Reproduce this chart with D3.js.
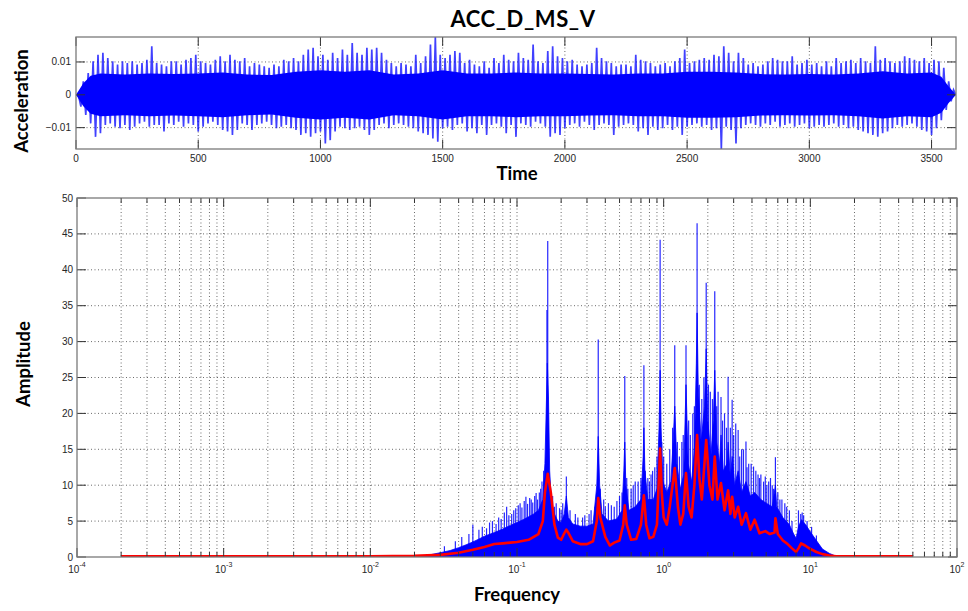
<!DOCTYPE html>
<html>
<head>
<meta charset="utf-8">
<script src="https://cdn.jsdelivr.net/npm/d3@7/dist/d3.min.js"></script>
<style>
  body { margin: 0; background: #fff; }
  .tick-label { font-family: "Liberation Sans", Arial, sans-serif; font-size: 10px; fill: #262626; }
  .axis-title { font-family: Lato, "Open Sans", sans-serif; font-weight: bold; fill: #000; }
</style>
</head>
<body>
<svg width="968" height="611"></svg>
<script>
// ---- time signal: spike envelope read every 20 s (upper and lower peaks)
var sampleStep = 20;
var accHigh = [
  0, 0.0041, 0.0066, 0.0102, 0.0122, 0.0128, 0.0112, 0.0102, 0.0092, 0.0102,
  0.0097, 0.0102, 0.0092, 0.0097, 0.0107, 0.0148, 0.0097, 0.0092, 0.0087, 0.0102,
  0.0102, 0.0092, 0.0107, 0.0112, 0.0122, 0.0102, 0.0097, 0.0092, 0.0107, 0.0117,
  0.0102, 0.0122, 0.0107, 0.0102, 0.0112, 0.0087, 0.0097, 0.0092, 0.0087, 0.0082,
  0.0092, 0.0087, 0.0107, 0.0102, 0.0112, 0.0102, 0.0122, 0.0138, 0.0143, 0.0117,
  0.0122, 0.0107, 0.0128, 0.0112, 0.0138, 0.0122, 0.0158, 0.0128, 0.0122, 0.0143,
  0.0138, 0.0143, 0.0128, 0.0107, 0.0097, 0.0087, 0.0097, 0.0092, 0.0087, 0.0122,
  0.0097, 0.0117, 0.0153, 0.0176, 0.0122, 0.0112, 0.0122, 0.0133, 0.0128, 0.0097,
  0.0107, 0.0092, 0.0087, 0.0102, 0.0082, 0.0112, 0.0097, 0.0122, 0.0107, 0.0102,
  0.0128, 0.0112, 0.0107, 0.0153, 0.0102, 0.0097, 0.0133, 0.0148, 0.0117, 0.0112,
  0.0102, 0.0107, 0.0092, 0.0087, 0.0092, 0.0097, 0.0143, 0.0112, 0.0102, 0.0097,
  0.0087, 0.0092, 0.0092, 0.0087, 0.0122, 0.0107, 0.0102, 0.0097, 0.0087, 0.0092,
  0.0097, 0.0087, 0.0102, 0.0112, 0.0138, 0.0097, 0.0102, 0.0107, 0.0112, 0.0107,
  0.0122, 0.0117, 0.0148, 0.0128, 0.0102, 0.0128, 0.0112, 0.0092, 0.0097, 0.0087,
  0.0092, 0.0102, 0.0112, 0.0107, 0.0102, 0.0102, 0.0117, 0.0092, 0.0097, 0.0107,
  0.0092, 0.0097, 0.0087, 0.0102, 0.0087, 0.0112, 0.0097, 0.0102, 0.0107, 0.0097,
  0.0112, 0.0102, 0.0097, 0.0148, 0.0107, 0.0112, 0.0102, 0.0097, 0.0102, 0.0117,
  0.0112, 0.0107, 0.0102, 0.0112, 0.0097, 0.0107, 0.0102, 0.0082, 0.0041, 0.0015,
  0
];
var accLow = [
  0, -0.0036, -0.0061, -0.0087, -0.0128, -0.0117, -0.0092, -0.0087, -0.0097, -0.0102,
  -0.0092, -0.0107, -0.0097, -0.0087, -0.0082, -0.0097, -0.0092, -0.0092, -0.0112, -0.0087,
  -0.0092, -0.0082, -0.0097, -0.0087, -0.0092, -0.0112, -0.0097, -0.0087, -0.0082, -0.0092,
  -0.0107, -0.0112, -0.0122, -0.0107, -0.0087, -0.0092, -0.0107, -0.0092, -0.0087, -0.0082,
  -0.0092, -0.0102, -0.0097, -0.0092, -0.0102, -0.0107, -0.0122, -0.0117, -0.0128, -0.0117,
  -0.0112, -0.0148, -0.0138, -0.0112, -0.0097, -0.0102, -0.0107, -0.0102, -0.0097, -0.0107,
  -0.0122, -0.0107, -0.0092, -0.0087, -0.0102, -0.0092, -0.0087, -0.0092, -0.0097, -0.0102,
  -0.0112, -0.0117, -0.0122, -0.0133, -0.0143, -0.0102, -0.0097, -0.0107, -0.0092, -0.0087,
  -0.0112, -0.0102, -0.0117, -0.0092, -0.0122, -0.0092, -0.0087, -0.0097, -0.0117, -0.0092,
  -0.0128, -0.0087, -0.0092, -0.0097, -0.0082, -0.0087, -0.0097, -0.0128, -0.0117, -0.0122,
  -0.0102, -0.0092, -0.0087, -0.0097, -0.0082, -0.0092, -0.0107, -0.0092, -0.0087, -0.0092,
  -0.0122, -0.0097, -0.0092, -0.0087, -0.0092, -0.0112, -0.0102, -0.0122, -0.0097, -0.0107,
  -0.0102, -0.0092, -0.0107, -0.0097, -0.0122, -0.0097, -0.0092, -0.0087, -0.0097, -0.0092,
  -0.0107, -0.0102, -0.0165, -0.0097, -0.0107, -0.0148, -0.0102, -0.0092, -0.0087, -0.0092,
  -0.0097, -0.0087, -0.0092, -0.0082, -0.0097, -0.0092, -0.0087, -0.0097, -0.0092, -0.0087,
  -0.0102, -0.0097, -0.0092, -0.0097, -0.0092, -0.0087, -0.0097, -0.0092, -0.0102, -0.0097,
  -0.0107, -0.0112, -0.0117, -0.0122, -0.0128, -0.0117, -0.0112, -0.0102, -0.0092, -0.0097,
  -0.0092, -0.0087, -0.0097, -0.0107, -0.0112, -0.0122, -0.0102, -0.0077, -0.0046, -0.0020,
  0
];
// solid core of the signal (half width), read every 100 s
var coreTime = [0, 30, 60, 100, 200, 300, 400, 500, 600, 700, 800, 900, 1000, 1100, 1200, 1300, 1400, 1500,
  1600, 1700, 1800, 1900, 2000, 2100, 2200, 2300, 2400, 2500, 2600, 2700, 2800, 2900, 3000, 3100, 3200,
  3300, 3400, 3500, 3540, 3570, 3600];
var accCore = [0, 0.0035, 0.0058, 0.0065, 0.0062, 0.0065, 0.0063, 0.0065, 0.0068, 0.0062, 0.0060, 0.0070,
  0.0075, 0.0070, 0.0075, 0.0062, 0.0065, 0.0075, 0.0065, 0.0065, 0.0068, 0.0065, 0.0065, 0.0063, 0.0062,
  0.0065, 0.0065, 0.0070, 0.0070, 0.0068, 0.0063, 0.0062, 0.0063, 0.0062, 0.0065, 0.0072, 0.0065, 0.0068,
  0.0055, 0.0025, 0];
var timeTicks = [0, 500, 1000, 1500, 2000, 2500, 3000, 3500];
var accTicks = [-0.01, 0, 0.01];

// ---- spectrum
// dense blue body (upper edge of the filled part)
var freqBand = [0.0002, 0.02, 0.024, 0.03, 0.035, 0.04, 0.045, 0.05, 0.055, 0.06, 0.07, 0.08, 0.09, 0.1, 0.11,
  0.12, 0.13, 0.14, 0.15, 0.155, 0.158, 0.161, 0.164, 0.167, 0.172, 0.18, 0.19, 0.2, 0.21, 0.217, 0.224, 0.24,
  0.27, 0.3, 0.33, 0.35, 0.358, 0.366, 0.38, 0.42, 0.48, 0.52, 0.535, 0.543, 0.552, 0.58, 0.64, 0.7, 0.725,
  0.733, 0.745, 0.78, 0.85, 0.9, 0.93, 0.946, 0.96, 0.99, 1.05, 1.12, 1.16, 1.19, 1.23, 1.3, 1.37, 1.42, 1.47,
  1.55, 1.62, 1.67, 1.69, 1.72, 1.8, 1.9, 1.95, 2.0, 2.1, 2.18, 2.23, 2.3, 2.4, 2.46, 2.55, 2.7, 2.75, 2.85,
  2.93, 3.05, 3.22, 3.4, 3.64, 3.9, 4.17, 4.6, 5.0, 5.5, 5.78, 5.9, 6.5, 7.2, 7.7, 8.0, 8.3, 8.7, 9.3, 10, 11,
  12.1, 13.5, 15, 16, 50];
var ampBand = [0, 0, 0.2, 0.6, 0.9, 1.3, 1.7, 2.1, 2.5, 2.9, 3.4, 3.9, 4.4, 4.8, 5.2,
  5.6, 6.0, 6.5, 8, 13, 20, 27, 22, 12, 7.5, 6, 5, 4.8, 6, 8.5, 5.5, 4.6,
  4.3, 4.3, 4.6, 10, 16.8, 10, 6, 5, 5.3, 6.5, 12, 16, 10, 6.5, 7, 8, 14,
  18, 12, 8, 8, 9.5, 18, 26, 18, 10.5, 9, 10.5, 16, 21, 13, 9.5, 11.5, 24, 13,
  10.5, 15, 27, 34, 24, 16, 21, 29, 19, 14, 19, 26, 16, 13, 17, 12, 13, 16, 11,
  14, 10, 12, 9, 10.5, 8.5, 9, 8, 7.5, 7, 10, 7, 5.5, 4.5, 3.2, 2.6, 4.2, 5.2, 4.5, 3.5, 2.3,
  1.1, 0.5, 0.1, 0, 0];
// thin spikes rising out of the body
var peakFreq = [0.032, 0.038, 0.042, 0.047, 0.05, 0.055, 0.058, 0.062, 0.065, 0.068, 0.072, 0.075, 0.078,
  0.082, 0.085, 0.088, 0.092, 0.095, 0.098, 0.102, 0.105, 0.108, 0.112, 0.115, 0.118, 0.122, 0.125, 0.128,
  0.132, 0.135, 0.138, 0.142, 0.145, 0.148, 0.152, 0.160, 0.162, 0.175, 0.18, 0.185, 0.195, 0.2, 0.205,
  0.217, 0.23, 0.25, 0.26, 0.28, 0.29, 0.31, 0.32, 0.34, 0.358, 0.37, 0.39, 0.4, 0.42, 0.44, 0.46, 0.48,
  0.5, 0.52, 0.543, 0.56, 0.57, 0.6, 0.62, 0.64, 0.67, 0.7, 0.733, 0.75, 0.78, 0.8, 0.82, 0.84, 0.87, 0.9,
  0.946, 0.97, 1.0, 1.05, 1.1, 1.15, 1.19, 1.24, 1.28, 1.33, 1.36, 1.42, 1.48, 1.52, 1.58, 1.62, 1.69,
  1.75, 1.82, 1.88, 1.95, 2.02, 2.08, 2.15, 2.23, 2.3, 2.35, 2.46, 2.52, 2.6, 2.68, 2.75, 2.85, 2.93, 3.0,
  3.1, 3.22, 3.3, 3.4, 3.5, 3.64, 3.7, 3.8, 3.95, 4.1, 4.25, 4.4, 4.5, 4.6, 4.8, 4.93, 5.05, 5.2, 5.35,
  5.5, 5.6, 5.78, 6.0, 6.2, 6.4, 6.7, 6.9, 7.2, 7.5, 8.3, 8.6, 8.8, 9.0, 9.5, 10.2, 11];
var peakAmp = [1.5, 2.2, 2.8, 3.2, 4.5, 3.8, 4.2, 4.0, 4.8, 5.0, 4.6, 5.5, 5.3,
  6.2, 7.0, 5.8, 6.0, 6.5, 6.8, 7.2, 7.5, 6.9, 7.8, 8.4, 7.4, 8.2, 8.0, 7.6,
  8.5, 8.9, 8.0, 9.0, 9.5, 10.5, 12, 34.4, 44.0, 8.5, 7, 7.5, 6.8, 6.5, 7.5,
  11.2, 6.5, 6, 5.5, 5.5, 5.8, 6, 6.5, 7, 30.3, 9.5, 8, 7, 7.5, 7.2, 7, 7.8,
  8.5, 9, 25.2, 11, 9.5, 9.5, 10, 10.5, 10.5, 11, 26.7, 12, 11, 10.5, 11.5, 12, 12.5, 14,
  44.2, 16, 14, 13, 15, 18, 29.5, 16, 14, 16, 17, 29.5, 19, 17, 20, 21, 46.5,
  24, 22, 25, 38.2, 24, 23, 22, 37.0, 21, 23, 22.3, 19, 20, 18, 25.1, 18, 21.9, 17,
  18.6, 17.7, 14, 15, 15, 16.1, 12.5, 13, 13, 12.6, 12, 11.5, 11, 11.5, 10.5, 11.2, 10, 10.5, 11,
  10, 9.5, 13.9, 9, 8, 8, 7.5, 7, 6.5, 5, 6.5, 6, 6.2, 5.8, 5, 4.2, 3];
// smoothed spectrum (red)
var freqSmooth = [0.0002, 0.01, 0.02, 0.03, 0.04, 0.05, 0.06, 0.07, 0.08, 0.09, 0.1, 0.12, 0.14, 0.15, 0.155,
  0.162, 0.17, 0.18, 0.19, 0.2, 0.21, 0.217, 0.225, 0.24, 0.27, 0.3, 0.33, 0.35, 0.358, 0.37, 0.4, 0.43, 0.46,
  0.5, 0.53, 0.543, 0.56, 0.6, 0.65, 0.7, 0.733, 0.76, 0.8, 0.85, 0.9, 0.946, 0.97, 1.0, 1.05, 1.1, 1.19, 1.25,
  1.3, 1.36, 1.42, 1.48, 1.55, 1.62, 1.69, 1.75, 1.82, 1.95, 2.05, 2.15, 2.23, 2.33, 2.46, 2.6, 2.75, 2.85,
  2.93, 3.05, 3.22, 3.4, 3.64, 3.9, 4.17, 4.5, 4.93, 5.3, 5.7, 5.78, 6.0, 6.5, 7.0, 7.5, 8.0, 8.3, 8.65, 9.2,
  9.85, 11, 12.1, 13.5, 15, 50];
var ampSmooth = [0.1, 0.1, 0.15, 0.3, 0.6, 1.0, 1.4, 1.8, 1.9, 2.0, 2.1, 2.4, 3.2, 5, 9,
  11.6, 9, 4.5, 2.7, 2.4, 3.3, 3.8, 3.3, 2.2, 1.8, 1.8, 2.2, 5, 8.2, 5.5, 2.8, 1.6, 2.0,
  2.3, 4.5, 7.2, 4.5, 2.4, 2.5, 4.5, 8.6, 4.5, 2.6, 2.8, 4.5, 15.1, 9, 5.5, 4.5, 7, 12.4, 7,
  4.5, 6, 11.7, 7, 5.5, 10, 17, 11, 8, 16.3, 10, 8, 14, 8, 10.3, 6.5, 9.3, 6,
  8.4, 5.5, 7.0, 4.5, 6.1, 3.8, 5.2, 3.3, 3.6, 3.2, 3.4, 5.4, 3.2, 2.3, 1.8, 1.2, 0.7, 1.2, 1.9, 1.6,
  1.2, 0.7, 0.4, 0.2, 0.1, 0.1];
var ampTicks = [0, 5, 10, 15, 20, 25, 30, 35, 40, 45, 50];

var svg = d3.select("svg");

function frame(g, x0, x1, y0, y1) {
  g.append("rect").attr("x", x0).attr("y", y0).attr("width", x1 - x0).attr("height", y1 - y0)
    .attr("fill", "none").attr("stroke", "#7a7a7a").attr("stroke-width", 1.3);
}
function grid(g, x1a, x1b, y1a, y1b) {
  g.append("line").attr("x1", x1a).attr("x2", x1b).attr("y1", y1a).attr("y2", y1b)
    .attr("stroke", "#444").attr("stroke-width", 0.8).attr("stroke-dasharray", "1,2.5");
}

// ================= top plot =================
var tx = d3.scaleLinear().domain([0, 3600]).range([76, 956]);
var ty = d3.scaleLinear().domain(d3.extent(accHigh.concat(accLow))).range([149, 37]);
var topG = svg.append("g");
topG.append("clipPath").attr("id", "clipTop").append("rect")
  .attr("x", 76).attr("y", 37).attr("width", 880).attr("height", 112);

timeTicks.forEach(function(t) { if (t > 0) grid(topG, tx(t), tx(t), 37, 149); });
accTicks.forEach(function(v) { grid(topG, 76, 956, ty(v), ty(v)); });

var sig = topG.append("g").attr("clip-path", "url(#clipTop)");
sig.append("path")
  .datum(coreTime.map(function(t, i) { return [t, accCore[i]]; }))
  .attr("fill", "#0000ff")
  .attr("d", d3.area().x(function(d) { return tx(d[0]); })
    .y0(function(d) { return ty(-d[1]); }).y1(function(d) { return ty(d[1]); }));
var zig = [];
accHigh.forEach(function(h, i) {
  var t = i * sampleStep;
  zig.push([t, accLow[i]]);
  zig.push([Math.min(t + sampleStep / 2, 3600), h]);
});
sig.append("path").datum(zig)
  .attr("fill", "none").attr("stroke", "#0000ff").attr("stroke-width", 1.7).attr("stroke-opacity", 0.75)
  .attr("d", d3.line().x(function(d) { return tx(d[0]); }).y(function(d) { return ty(d[1]); }));

// ticks
timeTicks.forEach(function(t) {
  topG.append("line").attr("x1", tx(t)).attr("x2", tx(t)).attr("y1", 149).attr("y2", 140).attr("stroke", "#333");
  topG.append("line").attr("x1", tx(t)).attr("x2", tx(t)).attr("y1", 37).attr("y2", 46).attr("stroke", "#333");
  topG.append("text").attr("class", "tick-label").attr("x", tx(t)).attr("y", 162)
    .attr("text-anchor", "middle").text(t);
});
accTicks.forEach(function(v) {
  topG.append("line").attr("x1", 76).attr("x2", 85).attr("y1", ty(v)).attr("y2", ty(v)).attr("stroke", "#333");
  topG.append("line").attr("x1", 947).attr("x2", 956).attr("y1", ty(v)).attr("y2", ty(v)).attr("stroke", "#333");
  topG.append("text").attr("class", "tick-label").attr("x", 71).attr("y", ty(v) + 3.5)
    .attr("text-anchor", "end").text(v === 0 ? "0" : d3.format(".2f")(v));
});
frame(topG, 76, 956, 37, 149);

// ================= spectrum =================
var fx = d3.scaleLog().domain([1e-4, 100]).range([77, 957]);
var fy = d3.scaleLinear().domain([0, 50]).range([557, 198]);
var bot = svg.append("g");
bot.append("clipPath").attr("id", "clipBot").append("rect")
  .attr("x", 77).attr("y", 198).attr("width", 880).attr("height", 359);

var logTicks = fx.ticks();
logTicks.forEach(function(f) { if (f > 1e-4 && f < 100) grid(bot, fx(f), fx(f), 198, 557); });
ampTicks.forEach(function(a) { if (a > 0 && a < 50) grid(bot, 77, 957, fy(a), fy(a)); });

var spec = bot.append("g").attr("clip-path", "url(#clipBot)");
spec.append("path")
  .datum(freqBand.map(function(f, i) { return [f, ampBand[i]]; }))
  .attr("fill", "#0000ff").attr("stroke", "#0000ff").attr("stroke-width", 0.8)
  .attr("d", d3.area().x(function(d) { return fx(d[0]); }).y0(fy(0)).y1(function(d) { return fy(d[1]); }));
spec.selectAll("line.spike").data(peakFreq).enter().append("line").attr("class", "spike")
  .attr("x1", function(f) { return fx(f); }).attr("x2", function(f) { return fx(f); })
  .attr("y1", fy(0)).attr("y2", function(f, i) { return fy(peakAmp[i]); })
  .attr("stroke", "#0000ff").attr("stroke-width", 1.2).attr("stroke-opacity", 0.85);
spec.append("path")
  .datum(freqSmooth.map(function(f, i) { return [f, ampSmooth[i]]; }))
  .attr("fill", "none").attr("stroke", "#ff0000").attr("stroke-width", 2.6).attr("stroke-linejoin", "round")
  .attr("d", d3.line().x(function(d) { return fx(d[0]); }).y(function(d) { return fy(d[1]); }));

logTicks.forEach(function(f) {
  var major = Math.abs(Math.log10(f) - Math.round(Math.log10(f))) < 1e-6;
  var len = major ? 9 : 5;
  bot.append("line").attr("x1", fx(f)).attr("x2", fx(f)).attr("y1", 557).attr("y2", 557 - len).attr("stroke", "#333");
  bot.append("line").attr("x1", fx(f)).attr("x2", fx(f)).attr("y1", 198).attr("y2", 198 + len).attr("stroke", "#333");
  if (major) {
    var lab = bot.append("text").attr("class", "tick-label").attr("x", fx(f)).attr("y", 573)
      .attr("text-anchor", "middle");
    lab.append("tspan").text("10");
    lab.append("tspan").attr("dy", -6).attr("font-size", "7px").text(Math.round(Math.log10(f)));
  }
});
ampTicks.forEach(function(a) {
  bot.append("line").attr("x1", 77).attr("x2", 86).attr("y1", fy(a)).attr("y2", fy(a)).attr("stroke", "#333");
  bot.append("line").attr("x1", 948).attr("x2", 957).attr("y1", fy(a)).attr("y2", fy(a)).attr("stroke", "#333");
  bot.append("text").attr("class", "tick-label").attr("x", 73).attr("y", fy(a) + 3.5)
    .attr("text-anchor", "end").text(a);
});
frame(bot, 77, 957, 198, 557);

// ================= titles =================
svg.append("text").attr("class", "axis-title").attr("x", 523).attr("y", 27)
  .attr("text-anchor", "middle").attr("font-size", "22px").attr("letter-spacing", "0.6px").text("ACC_D_MS_V");
svg.append("text").attr("class", "axis-title").attr("x", 517).attr("y", 180)
  .attr("text-anchor", "middle").attr("font-size", "18.5px").text("Time");
svg.append("text").attr("class", "axis-title").attr("x", 517).attr("y", 601)
  .attr("text-anchor", "middle").attr("font-size", "18.5px").text("Frequency");
svg.append("text").attr("class", "axis-title").attr("transform", "translate(28,101) rotate(-90)")
  .attr("text-anchor", "middle").attr("font-size", "18.5px").text("Acceleration");
svg.append("text").attr("class", "axis-title").attr("transform", "translate(30,364) rotate(-90)")
  .attr("text-anchor", "middle").attr("font-size", "18.5px").text("Amplitude");
</script>
</body>
</html>
